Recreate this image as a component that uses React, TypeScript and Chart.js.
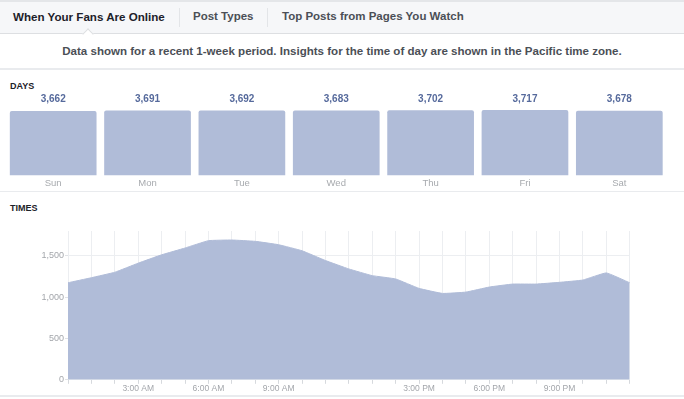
import React, { useEffect, useRef } from 'react';
import { Chart, registerables } from 'chart.js';

Chart.register(...registerables);

const FONT = '"Liberation Sans", Arial, Helvetica, sans-serif';

const TABS = ['When Your Fans Are Online', 'Post Types', 'Top Posts from Pages You Watch'];
const NOTE = 'Data shown for a recent 1-week period. Insights for the time of day are shown in the Pacific time zone.';

const DAYS = ['Sun', 'Mon', 'Tue', 'Wed', 'Thu', 'Fri', 'Sat'];
const DAY_VALUES = [3662, 3691, 3692, 3683, 3702, 3717, 3678];

const HOURS = [
  '12:00 AM', '1:00 AM', '2:00 AM', '3:00 AM', '4:00 AM', '5:00 AM', '6:00 AM', '7:00 AM',
  '8:00 AM', '9:00 AM', '10:00 AM', '11:00 AM', '12:00 PM', '1:00 PM', '2:00 PM', '3:00 PM',
  '4:00 PM', '5:00 PM', '6:00 PM', '7:00 PM', '8:00 PM', '9:00 PM', '10:00 PM', '11:00 PM', '12:00 AM',
];
const HOUR_VALUES = [
  1174, 1235, 1301, 1411, 1512, 1594, 1683, 1691, 1675, 1634, 1561, 1443, 1341,
  1260, 1220, 1106, 1045, 1061, 1122, 1158, 1158, 1179, 1207, 1293, 1174,
];
const SHOWN_HOUR_TICKS = ['3:00 AM', '6:00 AM', '9:00 AM', '3:00 PM', '6:00 PM', '9:00 PM'];
const Y_TICKS = [0, 500, 1000, 1500];
const Y_MAX = 1800;

const FILL = '#b0bcd8';

const valueLabelPlugin = {
  id: 'valueLabels',
  afterDatasetsDraw(chart: any) {
    const { ctx, chartArea } = chart;
    const meta = chart.getDatasetMeta(0);
    ctx.save();
    ctx.font = `bold 10px ${FONT}`;
    ctx.fillStyle = '#566a9c';
    ctx.textAlign = 'center';
    ctx.textBaseline = 'middle';
    meta.data.forEach((bar: any, i: number) => {
      ctx.fillText(DAY_VALUES[i].toLocaleString('en-US'), bar.x, chartArea.top - 10.5);
    });
    ctx.restore();
  },
};

function DaysChart() {
  const ref = useRef<HTMLCanvasElement>(null);
  useEffect(() => {
    const chart = new Chart(ref.current!, {
      type: 'bar',
      data: {
        labels: DAYS,
        datasets: [
          {
            data: DAY_VALUES,
            backgroundColor: FILL,
            borderWidth: 0,
            borderRadius: { topLeft: 2, topRight: 2, bottomLeft: 0, bottomRight: 0 },
            borderSkipped: 'start',
            categoryPercentage: 1,
            barPercentage: 0.919,
          },
        ],
      },
      options: {
        responsive: false,
        animation: false,
        layout: { padding: { top: 20, left: 6, right: 17.5, bottom: 1 } },
        plugins: { legend: { display: false }, tooltip: { enabled: false } },
        scales: {
          x: {
            grid: { display: false, drawTicks: false },
            border: { display: false },
            ticks: { padding: 2, color: '#a7aaae', font: { size: 9.5, family: FONT } },
          },
          y: { display: false, min: 0, max: Math.max(...DAY_VALUES) },
        },
      },
      plugins: [valueLabelPlugin],
    } as any);
    return () => chart.destroy();
  }, []);
  return <canvas ref={ref} width={684} height={102} style={{ display: 'block' }} />;
}

function TimesChart() {
  const ref = useRef<HTMLCanvasElement>(null);
  useEffect(() => {
    const chart = new Chart(ref.current!, {
      type: 'line',
      data: {
        labels: HOURS,
        datasets: [
          {
            data: HOUR_VALUES,
            fill: 'origin',
            backgroundColor: FILL,
            borderColor: FILL,
            borderWidth: 1,
            pointRadius: 0,
            tension: 0.1,
          },
        ],
      },
      options: {
        responsive: false,
        animation: false,
        layout: { padding: { top: 11, left: 0, right: 54.3, bottom: 2 } },
        plugins: { legend: { display: false }, tooltip: { enabled: false } },
        scales: {
          x: {
            type: 'category',
            offset: false,
            grid: { color: '#eceef1', drawTicks: true, tickLength: 4, tickColor: '#d6d9dd' },
            border: { display: false },
            ticks: {
              autoSkip: false,
              maxRotation: 0,
              minRotation: 0,
              padding: 0,
              color: '#a3a6ab',
              font: { size: 8.5, family: FONT },
              callback: (_v: any, i: number) => (SHOWN_HOUR_TICKS.includes(HOURS[i]) ? HOURS[i] : ''),
            },
          },
          y: {
            min: 0,
            max: Y_MAX,
            afterBuildTicks: (scale: any) => {
              scale.ticks = Y_TICKS.map((v) => ({ value: v }));
            },
            afterFit: (scale: any) => {
              scale.width = 68;
            },
            grid: { color: '#eceef1', drawTicks: true, tickLength: 3, tickColor: '#e0e2e6' },
            border: { display: false },
            ticks: {
              padding: 1,
              color: '#a3a6ab',
              font: { size: 9, family: FONT },
              callback: (v: any) => Number(v).toLocaleString('en-US'),
            },
          },
        },
      },
    } as any);
    return () => chart.destroy();
  }, []);
  return <canvas ref={ref} width={684} height={176} style={{ display: 'block' }} />;
}

export default function App() {
  const abs = (s: React.CSSProperties): React.CSSProperties => ({ position: 'absolute', ...s });
  return (
    <div
      style={abs({
        left: 0,
        top: 0,
        width: 684,
        height: 399,
        background: '#ffffff',
        fontFamily: FONT,
        overflow: 'hidden',
      })}
    >
      {/* tab bar */}
      <div
        style={abs({
          left: 0,
          top: 0,
          width: 684,
          height: 34,
          background: '#f6f7f9',
          borderTop: '2px solid #e4e6e9',
          borderBottom: '1px solid #dddfe2',
          boxSizing: 'border-box',
        })}
      />
      <div style={abs({ left: 13, top: 0, height: 33, lineHeight: '33px', fontSize: 11.6, fontWeight: 'bold', color: '#1d2129', whiteSpace: 'nowrap' })}>
        {TABS[0]}
      </div>
      <div style={abs({ left: 179, top: 8, width: 1, height: 19, background: '#e3e5e8' })} />
      <div style={abs({ left: 193, top: 0, height: 33, lineHeight: '33px', fontSize: 11.5, fontWeight: 'bold', color: '#4b4f56', whiteSpace: 'nowrap' })}>
        {TABS[1]}
      </div>
      <div style={abs({ left: 267, top: 8, width: 1, height: 19, background: '#e3e5e8' })} />
      <div style={abs({ left: 282, top: 0, height: 33, lineHeight: '33px', fontSize: 11.5, fontWeight: 'bold', color: '#4b4f56', whiteSpace: 'nowrap' })}>
        {TABS[2]}
      </div>
      {/* caret */}
      <div
        style={abs({
          left: 84,
          top: 30,
          width: 7,
          height: 7,
          background: '#ffffff',
          borderTop: '1px solid #dddfe2',
          borderLeft: '1px solid #dddfe2',
          transform: 'rotate(45deg)',
        })}
      />
      {/* note */}
      <div style={abs({ left: 0, top: 41, width: 684, height: 20, lineHeight: '20px', textAlign: 'center', fontSize: 11.55, fontWeight: 'bold', color: '#4b4f56', whiteSpace: 'nowrap' })}>
        {NOTE}
      </div>
      <div style={abs({ left: 0, top: 68, width: 684, height: 2, background: '#e9ebee' })} />

      {/* days */}
      <div style={abs({ left: 10, top: 80, height: 12, lineHeight: '12px', fontSize: 9, fontWeight: 'bold', color: '#1d2129' })}>DAYS</div>
      <div style={abs({ left: 0, top: 90, width: 684, height: 102 })}>
        <DaysChart />
      </div>
      <div style={abs({ left: 0, top: 191, width: 684, height: 1, background: '#e9ebee' })} />

      {/* times */}
      <div style={abs({ left: 10, top: 202, height: 12, lineHeight: '12px', fontSize: 9, fontWeight: 'bold', color: '#1d2129' })}>TIMES</div>
      <div style={abs({ left: 0, top: 220, width: 684, height: 176 })}>
        <TimesChart />
      </div>
      <div style={abs({ left: 0, top: 395, width: 684, height: 2, background: '#e9ebee' })} />
    </div>
  );
}
